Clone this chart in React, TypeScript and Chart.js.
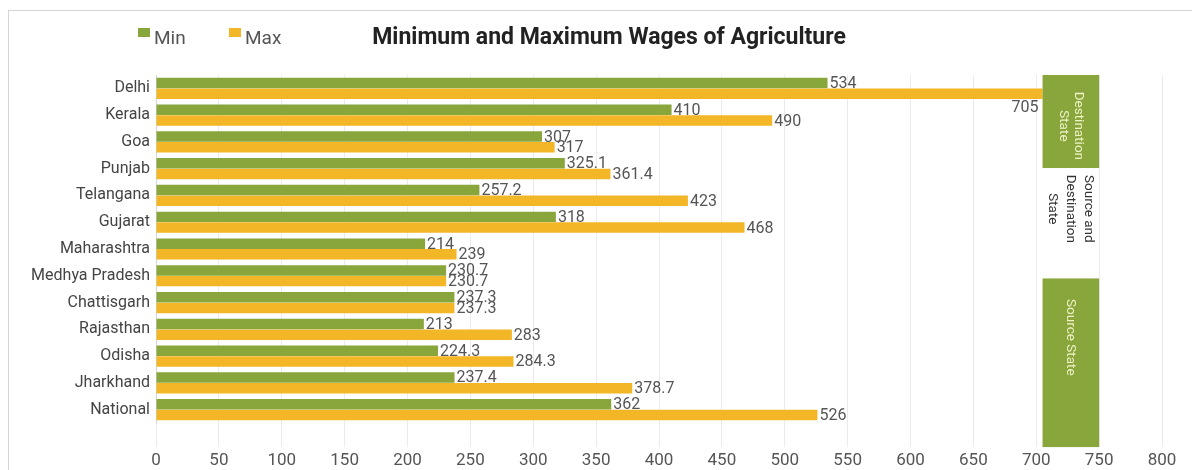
import React, { useEffect, useRef } from "react";
import { Chart, registerables } from "chart.js";

Chart.register(...registerables);

// ---- data ----
const categories = [
  "Delhi",
  "Kerala",
  "Goa",
  "Punjab",
  "Telangana",
  "Gujarat",
  "Maharashtra",
  "Medhya Pradesh",
  "Chattisgarh",
  "Rajasthan",
  "Odisha",
  "Jharkhand",
  "National",
];
const minWages = [534, 410, 307, 325.1, 257.2, 318, 214, 230.7, 237.3, 213, 224.3, 237.4, 362];
const maxWages = [705, 490, 317, 361.4, 423, 468, 239, 230.7, 237.3, 283, 284.3, 378.7, 526];
const seriesNames = ["Min", "Max"];
const chartTitle = "Minimum and Maximum Wages of Agriculture";
const xMin = 0;
const xMax = 800;
const xStep = 50;

// state-group annotation bands (x range in wage units, y range in category index units)
const groupLabels = [["Destination", "State"], ["Source and", "Destination", "State"], ["Source State"]];
const groupFilled = [true, false, true];
const groupFrom = [-0.5, 2.98, 7.1];
const groupTo = [2.98, 7.1, 13.4];
const groupTextAt = [1.4, 4.5, 9.3];
const groupXFrom = 705;
const groupXTo = 750;

// ---- styles ----
const GREEN = "#88a63b";
const YELLOW = "#f2b627";
const TEXT = "#555555";
const FONT = "Roboto";

const titlePlugin = {
  id: "customTitle",
  afterDraw(chart: any) {
    const { ctx } = chart;
    ctx.save();
    ctx.font = `bold 23px ${FONT}`;
    ctx.fillStyle = "#222222";
    ctx.textAlign = "center";
    ctx.textBaseline = "middle";
    ctx.fillText(chartTitle, 600, 27);
    ctx.restore();
  },
};

const groupsPlugin = {
  id: "groups",
  afterDatasetsDraw(chart: any) {
    const { ctx, scales } = chart;
    const xs = scales.x;
    const ys = scales.y;
    const x0 = xs.getPixelForValue(groupXFrom);
    const x1 = xs.getPixelForValue(groupXTo);
    ctx.save();
    for (let i = 0; i < groupLabels.length; i++) {
      const y0 = ys.getPixelForValue(groupFrom[i]);
      const y1 = ys.getPixelForValue(groupTo[i]);
      ctx.fillStyle = groupFilled[i] ? GREEN : "#ffffff";
      ctx.fillRect(x0, y0, x1 - x0, y1 - y0);
      const cx = (x0 + x1) / 2;
      const cy = ys.getPixelForValue(groupTextAt[i]);
      ctx.save();
      ctx.translate(cx, cy);
      ctx.rotate(Math.PI / 2);
      ctx.font = `13.5px ${FONT}`;
      ctx.fillStyle = groupFilled[i] ? "#eef2c4" : "#333333";
      ctx.textAlign = "center";
      ctx.textBaseline = "middle";
      const lines = groupLabels[i];
      const lh = lines.length > 2 ? 18 : 15;
      lines.forEach((ln, k) => {
        ctx.fillText(ln, 0, (k - (lines.length - 1) / 2) * lh);
      });
      ctx.restore();
    }
    ctx.restore();
  },
};

const labelsPlugin = {
  id: "valueLabels",
  afterDraw(chart: any) {
    const { ctx } = chart;
    const limit = chart.scales.x.getPixelForValue(groupXFrom);
    ctx.save();
    ctx.font = `16px ${FONT}`;
    ctx.fillStyle = TEXT;
    ctx.textBaseline = "middle";
    chart.data.datasets.forEach((ds: any, di: number) => {
      const meta = chart.getDatasetMeta(di);
      meta.data.forEach((bar: any, i: number) => {
        const txt = String(ds.data[i]);
        const w = ctx.measureText(txt).width;
        if (bar.x + 3 + w > limit) {
          ctx.textAlign = "right";
          ctx.fillText(txt, bar.x - 4, bar.y + 14);
        } else {
          ctx.textAlign = "left";
          ctx.fillText(txt, bar.x + 2, bar.y + 1);
        }
      });
    });
    ctx.restore();
  },
};

const legendPlugin = {
  id: "inlineLegend",
  afterDraw(chart: any) {
    const { ctx } = chart;
    const y = 27;
    const boxX = [129, 220];
    ctx.save();
    ctx.font = `19px ${FONT}`;
    ctx.textBaseline = "middle";
    ctx.textAlign = "left";
    chart.data.datasets.forEach((ds: any, i: number) => {
      const x = boxX[i];
      ctx.fillStyle = ds.backgroundColor;
      ctx.fillRect(x, y - 10, 12, 9);
      ctx.fillStyle = TEXT;
      ctx.fillText(ds.label, x + 16, y + 1);
    });
    ctx.restore();
  },
};

export default function App() {
  const ref = useRef<HTMLCanvasElement | null>(null);

  useEffect(() => {
    if (!ref.current) return;
    const chart = new Chart(ref.current, {
      type: "bar",
      data: {
        labels: categories,
        datasets: [
          {
            label: seriesNames[0],
            data: minWages,
            backgroundColor: GREEN,
            categoryPercentage: 0.8,
            barPercentage: 0.98,
          },
          {
            label: seriesNames[1],
            data: maxWages,
            backgroundColor: YELLOW,
            categoryPercentage: 0.8,
            barPercentage: 0.98,
          },
        ],
      },
      options: {
        indexAxis: "y",
        responsive: false,
        animation: false,
        devicePixelRatio: 1,
        events: [],
        layout: { padding: { left: 0, right: 38, top: 64, bottom: 0 } },
        plugins: {
          legend: { display: false },
          tooltip: { enabled: false },
          title: { display: false },
        },
        scales: {
          x: {
            type: "linear",
            min: xMin,
            max: xMax,
            ticks: {
              stepSize: xStep,
              color: TEXT,
              font: { family: FONT, size: 17 },
              padding: 4,
            },
            afterFit(scale: any) {
              scale.height = 47;
            },
            grid: {
              color: "#ebebeb",
              tickColor: "#ebebeb",
              tickLength: 24,
              drawTicks: true,
            },
            border: { display: false },
          },
          y: {
            type: "category",
            afterFit(scale: any) {
              scale.width = 147;
            },
            ticks: {
              color: "#444444",
              font: { family: FONT, size: 16 },
              padding: 6,
            },
            grid: { display: false, drawTicks: false },
            border: { display: true, color: "#d5d5d5" },
          },
        },
      },
      plugins: [groupsPlugin, labelsPlugin, legendPlugin, titlePlugin],
    } as any);
    return () => chart.destroy();
  }, []);

  return (
    <div style={{ paddingTop: 2 }}>
      <div
        style={{
          borderTop: "1px solid #d4d4d4",
          borderLeft: "1px solid #d4d4d4",
          width: 1191,
          height: 459,
        }}
      >
        <canvas ref={ref} width={1191} height={459} style={{ display: "block", width: 1191, height: 459 }} />
      </div>
    </div>
  );
}
